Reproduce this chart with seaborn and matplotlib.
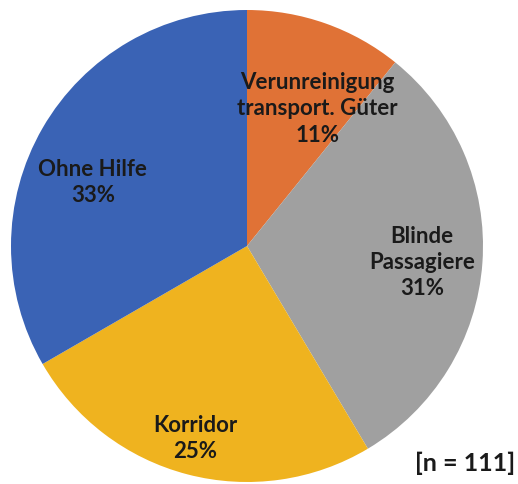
import matplotlib
matplotlib.use('Agg')
import matplotlib.pyplot as plt
import seaborn as sns

# counts per category (n = 111), clockwise from 12 o'clock
categories = ['Verunreinigung\ntransport. Güter', 'Blinde\nPassagiere', 'Korridor', 'Ohne Hilfe']
counts = [12, 34, 28, 37]
colors = ['#E07236', '#A0A0A0', '#EFB31F', '#3A63B5']
sample_note = '[n = 111]'

# label anchor positions in pie units (radius = 1)
label_pos = [(0.30, 0.585), (0.742, -0.064), (-0.22, -0.81), (-0.653, 0.275)]

sns.set_theme(style='white')
plt.rcParams['font.family'] = ['Lato', 'DejaVu Sans']

fig = plt.figure(figsize=(5.18, 4.85), dpi=100)
ax = fig.add_axes([11 / 518, 2 / 485, 472 / 518, 472 / 485])

wedges, _ = ax.pie(counts, colors=colors, startangle=90, counterclock=False,
                   radius=1, wedgeprops=dict(linewidth=0))
ax.set_xlim(-1, 1)
ax.set_ylim(-1, 1)
ax.axis('off')

total = sum(counts)
for cat, cnt, (x, y) in zip(categories, counts, label_pos):
    pct = round(cnt / total * 100)
    ax.text(x, y, f'{cat}\n{pct}%', ha='center', va='center', fontsize=16,
            fontweight='bold', color='#1a1a1a', linespacing=1.3)

fig.text(515 / 518, 1 - 463 / 485, sample_note, ha='right', va='center',
         fontsize=18, fontweight='bold', color='#1a1a1a')

fig.savefig('out.png', dpi=100)
